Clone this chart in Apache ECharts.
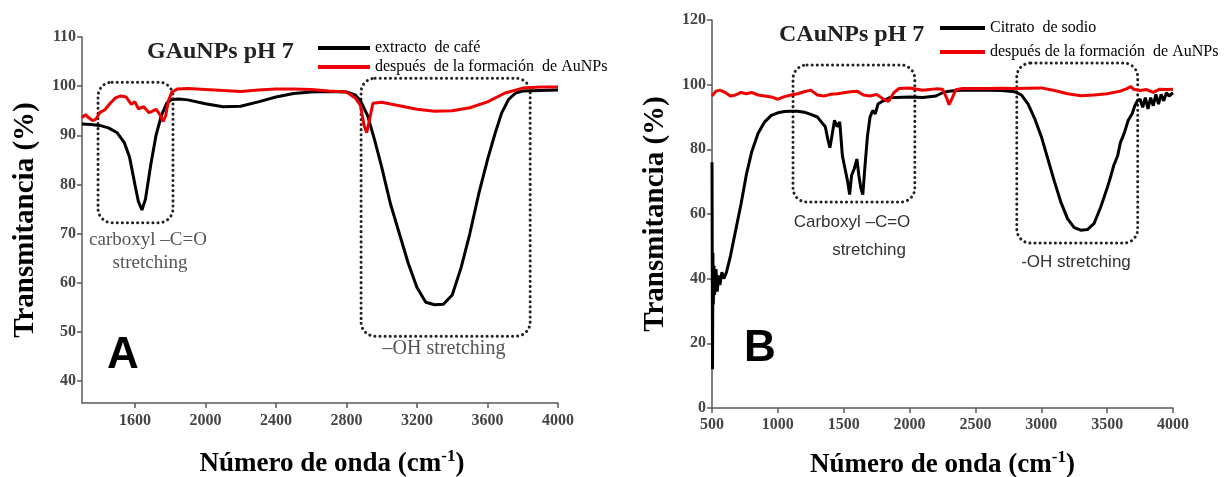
<!DOCTYPE html>
<html>
<head>
<meta charset="utf-8">
<script src="https://cdn.jsdelivr.net/npm/echarts@6.0.0/dist/echarts.min.js"></script>
<style>
  html, body { margin: 0; background: #fff; }
  #chart { width: 1225px; height: 477px; }
</style>
</head>
<body>
<div id="chart"></div>
<script>
// --- panel A: extracto de café vs AuNPs
const cafeX = [1300,1350,1400,1450,1500,1540,1570,1600,1620,1640,1660,1690,1720,1750,1780,1810,1850,1900,2000,2100,2200,2300,2400,2500,2600,2700,2800,2850,2880,2920,2960,3000,3050,3100,3150,3200,3250,3300,3350,3400,3450,3500,3550,3600,3640,3680,3720,3760,3800,3900,4000];
const cafeY = [92.3,92.2,92,91.5,90.5,88.5,85.5,80,76.5,74.8,77,84,90,94,96.5,97.3,97.4,97.2,96.4,95.8,95.9,96.8,97.8,98.5,98.8,98.9,98.8,98.2,97,94,89,83.5,76,70,64,59,56,55.5,55.6,57.5,63,70,78,85,90,94.5,97.3,98.6,99,99.1,99.2];

const auAX = [1300,1320,1340,1360,1380,1400,1430,1460,1490,1520,1550,1580,1600,1620,1650,1680,1700,1720,1740,1760,1775,1790,1810,1840,1900,2000,2100,2200,2300,2400,2500,2600,2700,2800,2850,2880,2900,2915,2930,2950,3000,3100,3200,3300,3400,3500,3600,3700,3800,3900,4000];
const auAY = [93.6,94.2,93.5,93,93.3,94.6,95.2,96.5,97.6,98,97.8,96.3,96.8,95.4,95.8,94.6,94.9,95.3,94.3,92.8,94,97,98.8,99.4,99.5,99.3,99.1,98.9,99.2,99.4,99.4,99.3,99,98.8,97.6,96,92,90.5,93,96.5,96.7,96,95.3,94.9,95,95.6,96.8,98.6,99.6,99.8,99.8];

// --- panel B: citrato de sodio vs AuNPs
const citX = [500,502,504,507,510,515,520,530,540,550,560,575,590,610,640,680,720,760,800,850,900,950,1000,1050,1100,1150,1200,1250,1300,1330,1360,1380,1395,1410,1430,1450,1470,1490,1510,1530,1545,1560,1580,1600,1615,1630,1645,1660,1680,1700,1720,1740,1760,1800,1850,1900,2000,2100,2200,2250,2300,2350,2400,2500,2600,2700,2800,2850,2900,2950,3000,3050,3100,3150,3200,3250,3300,3350,3400,3450,3500,3530,3550,3580,3600,3630,3660,3690,3710,3730,3750,3770,3790,3810,3830,3850,3870,3890,3910,3930,3950,3970,4000];
const citY = [76,45,12,48,32,44,35,43,36,41,38,42,40,42,47,55,63,72,79,85,88.5,90.5,91.3,91.7,91.8,91.8,91.5,90.8,90,88.5,87,83,80.5,84,89,87,88.5,78,74,70,66,72,74,77,72,68,66,74,84,90,92,91,94,95,96,96,96.2,96,96.5,97.5,98,98.2,98.3,98.3,98.3,98.2,97.8,96.8,94,89.5,84,77,70,63.5,58.5,55.8,55,55.2,57,62,68,72,75,78,82,85,89,91,93.5,95,95.5,93,96,92.5,96,93.5,97,94,97,95,97.5,96.5,97.5];

const auBX = [500,530,560,600,640,680,720,760,800,850,900,950,1000,1050,1100,1150,1200,1250,1300,1350,1400,1450,1500,1550,1600,1650,1700,1750,1800,1840,1880,1920,2000,2100,2150,2200,2250,2280,2300,2320,2350,2400,2500,2600,2700,2800,2900,3000,3100,3200,3300,3400,3500,3600,3650,3680,3700,3750,3800,3850,3900,3950,4000];
const auBY = [96.5,98,98.3,97.6,96.5,96.8,97.6,97.2,97.6,96.8,96.5,96.2,95.5,96.3,96.8,97.2,97.8,98.3,96.8,96.5,97,97.2,97.5,97.8,98,96.8,96.5,97,95.6,94.8,97.5,98.8,99,98.3,98.5,98.7,98.6,96,93.8,95.5,98.4,98.8,98.8,98.8,98.9,98.8,98.9,99,98.2,97.2,96.6,96.8,97.2,98,98.8,99.4,98.6,98.2,98.5,97.6,98.6,98.5,98.6];

// tick labels
const ticksAX = [1600,2000,2400,2800,3200,3600,4000];
const ticksAY = [40,50,60,70,80,90,100,110];

// dotted highlight boxes, in data units [x1, y1, x2, y2]
const boxesA = [[1391,100.8,1816,72.2],[2883,101.6,3842,49.1]];
const boxesB = [[1115,106.1,2040,63.7],[2814,106.7,3732,51]];

const serif = "'Liberation Serif', 'Times New Roman', serif";
const sans = "'Liberation Sans', Arial, sans-serif";
const axisGray = '#5a5a5a';
const red = '#ee0000';

const pair = (xs, ys) => xs.map((x, i) => [x, ys[i]]);

const axisBase = {
  axisLine: { lineStyle: { color: axisGray, width: 1.5 } },
  axisTick: { show: true, length: 5, inside: false, lineStyle: { color: axisGray, width: 1.5 } },
  axisLabel: { fontFamily: serif, fontWeight: 'bold', fontSize: 16, color: '#444', margin: 6,
    formatter: v => String(v) },
  splitLine: { show: false }
};

const xNameStyle = {
  fontFamily: serif, fontWeight: 'bold', fontSize: 27, color: '#000',
  rich: { sup: { fontFamily: serif, fontWeight: 'bold', fontSize: 17, color: '#000', padding: [0, 0, 15, 0] } }
};
const xName = {
  name: 'Número de onda (cm{sup|-1})',
  nameLocation: 'middle',
  nameTextStyle: xNameStyle
};
const yName = {
  name: 'Transmitancia (%)',
  nameLocation: 'middle',
  nameRotate: 90,
  nameTextStyle: { fontFamily: serif, fontWeight: 'bold', fontSize: 29, color: '#000' }
};

const legendText = { fontFamily: serif, fontSize: 16, color: '#000' };

const chart = echarts.init(document.getElementById('chart'));

chart.setOption({
  animation: false,
  backgroundColor: '#fff',
  title: [
    { text: 'GAuNPs pH 7', left: 147, top: 40, padding: 0,
      textStyle: { fontFamily: serif, fontWeight: 'bold', fontSize: 24, color: '#222' } },
    { text: 'CAuNPs pH 7', left: 779, top: 23, padding: 0,
      textStyle: { fontFamily: serif, fontWeight: 'bold', fontSize: 24, color: '#222' } }
  ],
  legend: [
    { data: ['extracto  de café', 'después  de la formación  de AuNPs'],
      orient: 'vertical', left: 318, top: 40, padding: 0, itemWidth: 52, itemHeight: 4, itemGap: 3,
      icon: 'rect', textStyle: legendText, selectedMode: false },
    { data: ['Citrato  de sodio', 'después de la formación  de AuNPs '],
      orient: 'vertical', left: 940, top: 20, padding: 0, itemWidth: 45, itemHeight: 4, itemGap: 8,
      icon: 'rect', textStyle: legendText, selectedMode: false }
  ],
  grid: [
    { left: 82, top: 37, width: 476, height: 366, outerBoundsMode: 'none', containLabel: false },
    { left: 712, top: 20, width: 461, height: 388, outerBoundsMode: 'none', containLabel: false }
  ],
  xAxis: [
    Object.assign({}, axisBase, xName, {
      type: 'value', gridIndex: 0, min: 1300, max: 4000, nameGap: 45,
      nameTextStyle: Object.assign({}, xNameStyle, { padding: [0, 0, 0, 24] }),
      axisTick: Object.assign({}, axisBase.axisTick, { customValues: ticksAX }),
      axisLabel: Object.assign({}, axisBase.axisLabel, { customValues: ticksAX, margin: 10 })
    }),
    Object.assign({}, axisBase, xName, {
      type: 'value', gridIndex: 1, min: 500, max: 4000, interval: 500, nameGap: 41,
      axisLabel: Object.assign({}, axisBase.axisLabel, { margin: 9 })
    })
  ],
  yAxis: [
    Object.assign({}, axisBase, yName, {
      type: 'value', gridIndex: 0, min: 35.5, max: 110, nameGap: 42,
      axisTick: Object.assign({}, axisBase.axisTick, { customValues: ticksAY }),
      axisLabel: Object.assign({}, axisBase.axisLabel, { customValues: ticksAY })
    }),
    Object.assign({}, axisBase, yName, {
      type: 'value', gridIndex: 1, min: 0, max: 120, interval: 20, nameGap: 42
    })
  ],
  series: [
    { name: 'extracto  de café', type: 'line', xAxisIndex: 0, yAxisIndex: 0,
      data: pair(cafeX, cafeY), showSymbol: false, color: '#000',
      lineStyle: { color: '#000', width: 3 } },
    { name: 'después  de la formación  de AuNPs', type: 'line', xAxisIndex: 0, yAxisIndex: 0,
      data: pair(auAX, auAY), showSymbol: false, color: red,
      lineStyle: { color: red, width: 3 } },
    { name: 'Citrato  de sodio', type: 'line', xAxisIndex: 1, yAxisIndex: 1,
      data: pair(citX, citY), showSymbol: false, color: '#000',
      lineStyle: { color: '#000', width: 3 } },
    { name: 'después de la formación  de AuNPs ', type: 'line', xAxisIndex: 1, yAxisIndex: 1,
      data: pair(auBX, auBY), showSymbol: false, color: red,
      lineStyle: { color: red, width: 3 } }
  ]
});

// boxes and notes, placed from data coords
const boxGraphic = (box, gridIndex) => {
  const p1 = chart.convertToPixel({ gridIndex }, [box[0], box[1]]);
  const p2 = chart.convertToPixel({ gridIndex }, [box[2], box[3]]);
  return {
    type: 'rect', silent: true,
    shape: { x: p1[0], y: p1[1], width: p2[0] - p1[0], height: p2[1] - p1[1], r: 14 },
    style: { fill: 'none', stroke: '#222', lineWidth: 3, lineDash: [0.1, 5], lineCap: 'round' }
  };
};

const note = (text, x, y, font, color) => ({
  type: 'text', silent: true, x, y,
  style: { text, font, fill: color || '#444', textAlign: 'center', textVerticalAlign: 'middle' }
});

chart.setOption({
  graphic: [
    ...boxesA.map(b => boxGraphic(b, 0)),
    ...boxesB.map(b => boxGraphic(b, 1)),
    note('carboxyl –C=O', 148, 240, '19px ' + serif, '#555'),
    note('stretching', 150, 263, '19px ' + serif, '#555'),
    note('–OH stretching', 444, 349, '20px ' + serif, '#555'),
    note('A', 123, 356, 'bold 44px ' + sans, '#000'),
    note('Carboxyl –C=O', 852, 222, '17px ' + sans, '#333'),
    note('stretching', 869, 250, '17px ' + sans, '#333'),
    note('-OH stretching', 1076, 262, '17px ' + sans, '#333'),
    note('B', 760, 349, 'bold 44px ' + sans, '#000')
  ]
});

window.addEventListener('resize', () => chart.resize());
</script>
</body>
</html>
